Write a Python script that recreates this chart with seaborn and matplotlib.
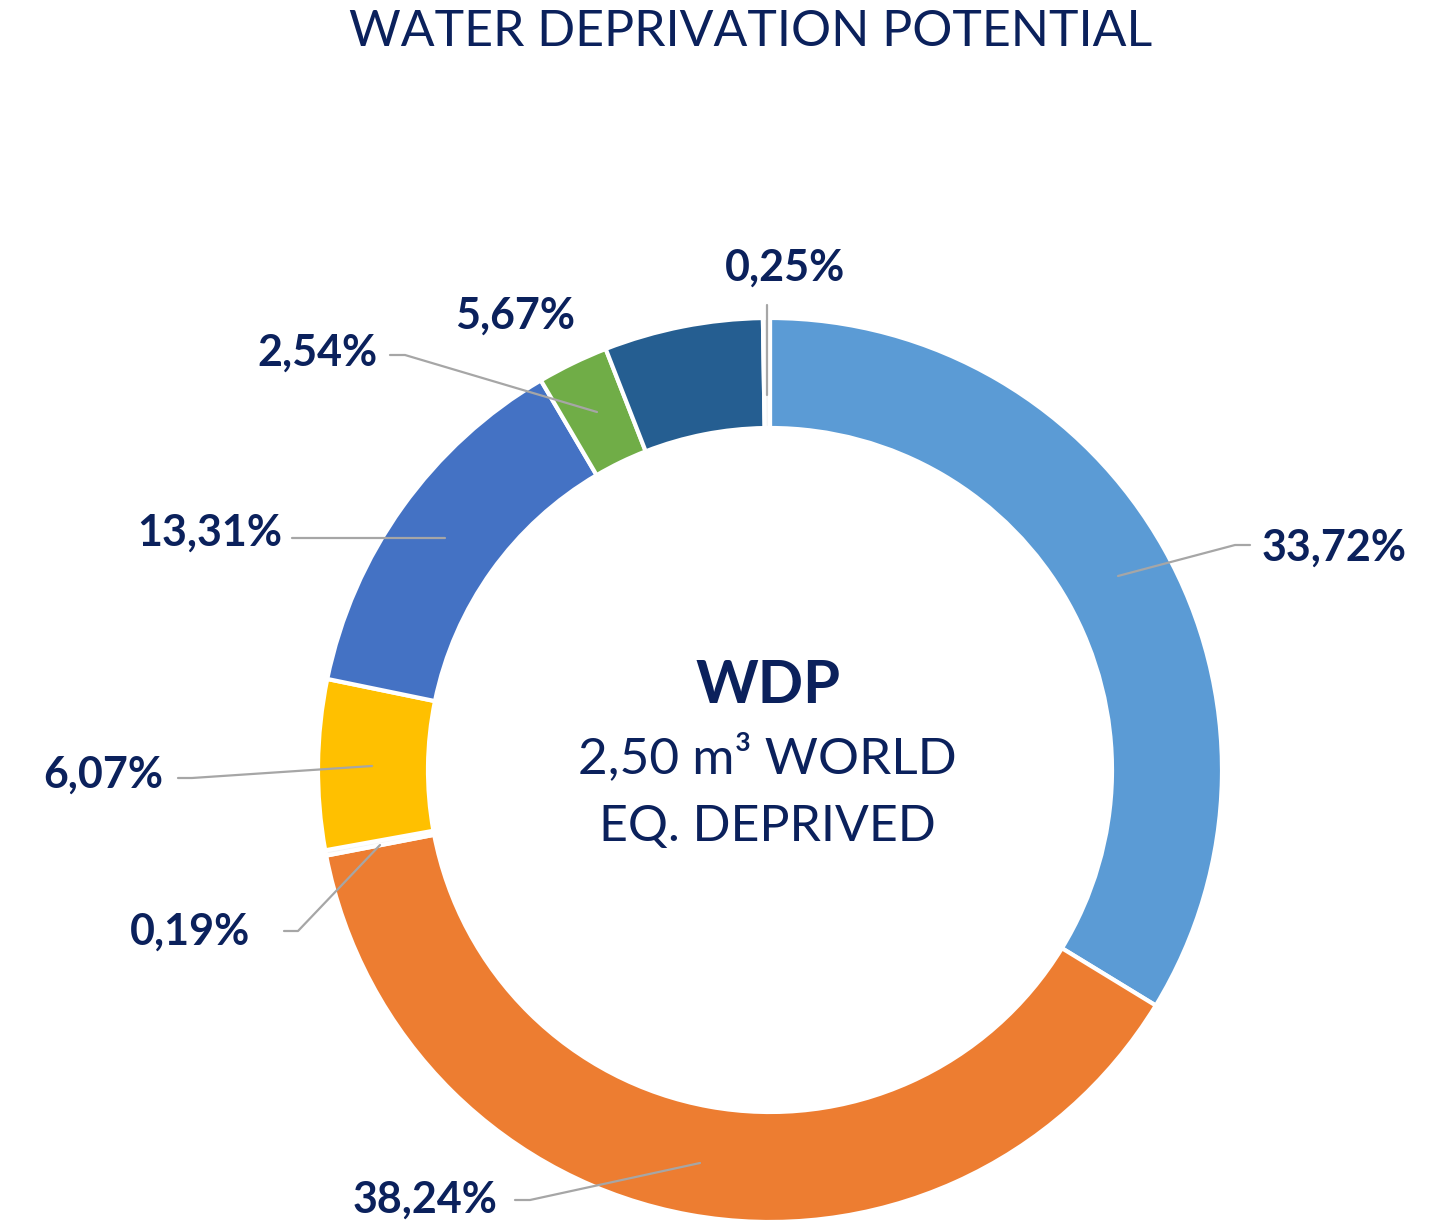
import matplotlib
matplotlib.use("Agg")
import matplotlib.pyplot as plt
import seaborn as sns

# Share of water deprivation potential by contributor (clockwise from 12 o'clock)
shares = [33.72, 38.24, 0.19, 6.07, 13.31, 2.54, 5.67, 0.25]
labels = ["33,72%", "38,24%", "0,19%", "6,07%", "13,31%", "2,54%", "5,67%", "0,25%"]
colors = ["#5B9BD5", "#ED7D31", "#F4F4F4", "#FFC000", "#4472C4", "#70AD47", "#255E91", "#F4F4F4"]

title = "WATER DEPRIVATION POTENTIAL"
center_head = "WDP"
center_lines = ["2,50 m³ WORLD", "EQ. DEPRIVED"]

sns.set_theme(style="white")
plt.rcParams["font.family"] = ["Lato", "DejaVu Sans"]

NAVY = "#0B215C"
GREY = "#A6A6A6"

W, H = 1435, 1230
fig = plt.figure(figsize=(W / 100, H / 100), dpi=100)
ax = fig.add_axes([0, 0, 1, 1])

cx, cy, R = 770, H - 770, 452
ax.pie(shares, colors=colors, startangle=90, counterclock=False,
       center=(cx, cy), radius=R, frame=True,
       wedgeprops=dict(width=110, edgecolor="white", linewidth=3))
ax.set_xlim(0, W)
ax.set_ylim(0, H)
ax.set_aspect("equal")
ax.axis("off")

def yy(y):
    return H - y

# label positions (text centre) and leader lines, measured from the top edge
label_pos = {
    "33,72%": (1334, 548),
    "38,24%": (425, 1200),
    "0,19%": (190, 932),
    "6,07%": (103, 775),
    "13,31%": (210, 533),
    "2,54%": (317, 353),
    "5,67%": (515, 316),
    "0,25%": (785, 268),
}
leaders = {
    "33,72%": [(1118, 576), (1235, 545), (1250, 545)],
    "38,24%": [(700, 1163), (530, 1200), (515, 1200)],
    "0,19%": [(380, 845), (298, 931), (284, 931)],
    "6,07%": [(372, 766), (192, 778), (178, 778)],
    "13,31%": [(445, 538), (292, 538)],
    "2,54%": [(597, 412), (405, 355), (390, 355)],
    "0,25%": [(767, 395), (767, 305)],
}

for lab in labels:
    if lab in leaders:
        pts = leaders[lab]
        ax.plot([p[0] for p in pts], [yy(p[1]) for p in pts], color=GREY,
                lw=1.6, zorder=3, solid_capstyle="round")
    x, y = label_pos[lab]
    ax.text(x, yy(y), lab, ha="center", va="center", fontsize=31,
            fontweight="bold", color=NAVY, zorder=4)

ax.text(751, yy(32), title, ha="center", va="center", fontsize=36,
        color=NAVY)

ax.text(cx - 2, yy(686), center_head, ha="center", va="center", fontsize=43,
        fontweight="bold", color=NAVY)
ax.text(cx - 3, yy(758), center_lines[0], ha="center", va="center", fontsize=37,
        color=NAVY)
ax.text(cx - 3, yy(827), center_lines[1], ha="center", va="center", fontsize=36,
        color=NAVY)

fig.savefig("out.png", dpi=100, facecolor="white")
